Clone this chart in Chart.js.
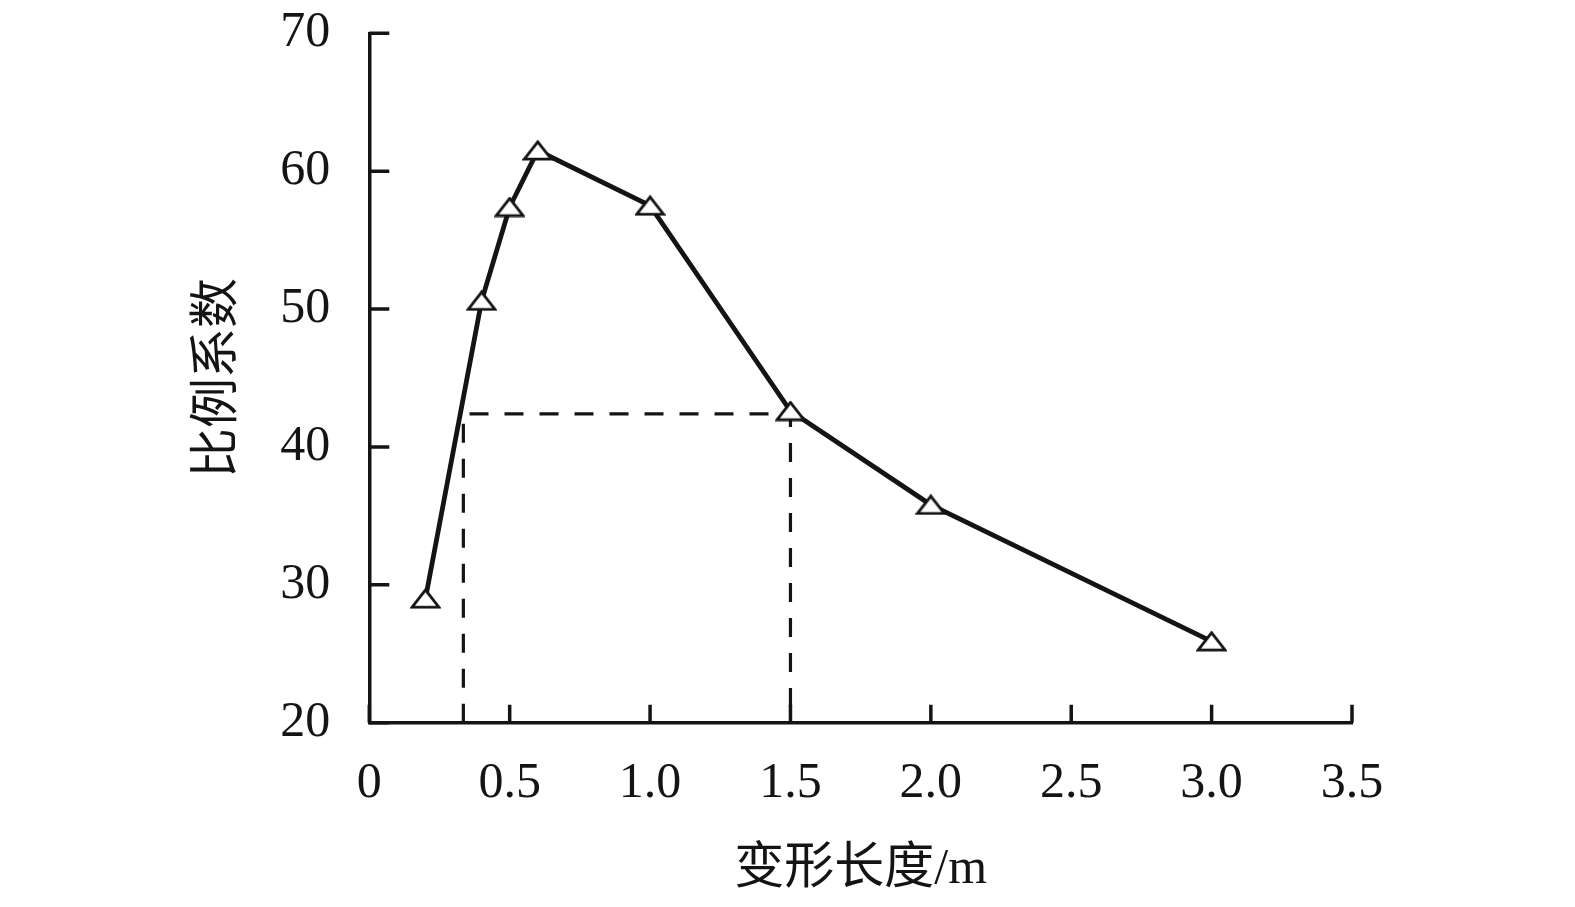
<!DOCTYPE html>
<html>
<head>
<meta charset="utf-8">
<script src="https://cdn.jsdelivr.net/npm/chart.js@4/dist/chart.umd.min.js"></script>
<style>
  html, body { margin: 0; padding: 0; background: #fff; }
  #wrap { width: 1575px; height: 907px; }
</style>
</head>
<body>
<div id="wrap"><canvas id="chart" width="1575" height="907"></canvas></div>
<script>
// Data
const lengths = [0.2, 0.4, 0.5, 0.6, 1.0, 1.5, 2.0, 3.0];
const ratios = [29.0, 50.6, 57.4, 61.5, 57.5, 42.6, 35.8, 25.9];

// dashed guide: from the rising branch at y=42.4 across to x=1.5
const guideX = [0.335, 0.335, 1.5, 1.5];
const guideY = [20, 42.4, 42.4, 20];

const xTicks = [0, 0.5, 1.0, 1.5, 2.0, 2.5, 3.0, 3.5];
const xTickLabels = ['0', '0.5', '1.0', '1.5', '2.0', '2.5', '3.0', '3.5'];
const yTicks = [20, 30, 40, 50, 60, 70];
const yTickLabels = ['20', '30', '40', '50', '60', '70'];

const ink = '#141414';
const fontFamily = '"Liberation Serif", "Noto Sans CJK SC", serif';

// open triangle marker (a bit flatter than Chart.js' own triangle)
function makeTriangle() {
  const c = document.createElement('canvas');
  c.width = 31;
  c.height = 21;
  const g = c.getContext('2d');
  g.beginPath();
  g.moveTo(15.5, 1.8);
  g.lineTo(29, 19.2);
  g.lineTo(2, 19.2);
  g.closePath();
  g.fillStyle = '#fff';
  g.fill();
  g.lineWidth = 2.8;
  g.lineJoin = 'miter';
  g.strokeStyle = ink;
  g.stroke();
  return c;
}
const triangle = makeTriangle();

// inner tick marks
const innerTicks = {
  id: 'innerTicks',
  beforeDatasetsDraw(chart) {
    const { ctx, scales: { x, y } } = chart;
    ctx.save();
    ctx.strokeStyle = ink;
    ctx.lineWidth = 3.5;
    ctx.beginPath();
    yTicks.forEach(v => {
      const py = y.getPixelForValue(v);
      ctx.moveTo(x.left, py);
      ctx.lineTo(x.left + 20, py);
    });
    xTicks.forEach(v => {
      const px = x.getPixelForValue(v);
      ctx.moveTo(px, y.bottom);
      ctx.lineTo(px, y.bottom - 18);
    });
    ctx.stroke();
    ctx.restore();
  }
};

new Chart(document.getElementById('chart'), {
  type: 'scatter',
  data: {
    datasets: [
      {
        label: 'ratio',
        data: lengths.map((v, i) => ({ x: v, y: ratios[i] })),
        showLine: true,
        borderColor: ink,
        borderWidth: 4.8,
        pointStyle: triangle,
        pointRadius: 10,
        pointHoverRadius: 10,
        clip: false,
        order: 0
      },
      {
        label: 'guide',
        data: guideX.map((v, i) => ({ x: v, y: guideY[i] })),
        showLine: true,
        borderColor: ink,
        borderWidth: 3.2,
        borderDash: [19, 16],
        pointRadius: 0,
        pointHoverRadius: 0,
        clip: false,
        order: 1
      }
    ]
  },
  options: {
    responsive: false,
    animation: false,
    events: [],
    layout: { padding: { top: 33.3, right: 223, bottom: 0, left: 0 } },
    plugins: { legend: { display: false }, tooltip: { enabled: false } },
    scales: {
      x: {
        type: 'linear',
        min: 0,
        max: 3.5,
        afterBuildTicks: s => { s.ticks = xTicks.map(v => ({ value: v })); },
        afterFit: s => {
          s.height = 907 - 722.7;
          s.paddingLeft = 0;
          s.paddingRight = 0;
        },
        grid: { display: false, drawTicks: false },
        border: { display: true, color: ink, width: 3.5 },
        ticks: {
          color: ink,
          padding: 31,
          maxRotation: 0,
          font: { family: fontFamily, size: 50 },
          callback: (v, i) => xTickLabels[i]
        },
        title: {
          display: true,
          text: '变形长度/m',
          color: ink,
          padding: { top: 0, bottom: 7 },
          font: { family: fontFamily, size: 50 }
        }
      },
      y: {
        type: 'linear',
        min: 20,
        max: 70,
        afterBuildTicks: s => { s.ticks = yTicks.map(v => ({ value: v })); },
        afterFit: s => {
          s.width = 369.3;
          s.paddingTop = 0;
          s.paddingBottom = 0;
        },
        grid: { display: false, drawTicks: false },
        border: { display: true, color: ink, width: 3.5 },
        ticks: {
          color: ink,
          padding: 39,
          font: { family: fontFamily, size: 50 },
          callback: (v, i) => yTickLabels[i]
        },
        title: {
          display: true,
          text: '比例系数',
          color: ink,
          padding: { top: 189, bottom: 0 },
          font: { family: fontFamily, size: 50 }
        }
      }
    }
  },
  plugins: [innerTicks]
});
</script>
</body>
</html>
